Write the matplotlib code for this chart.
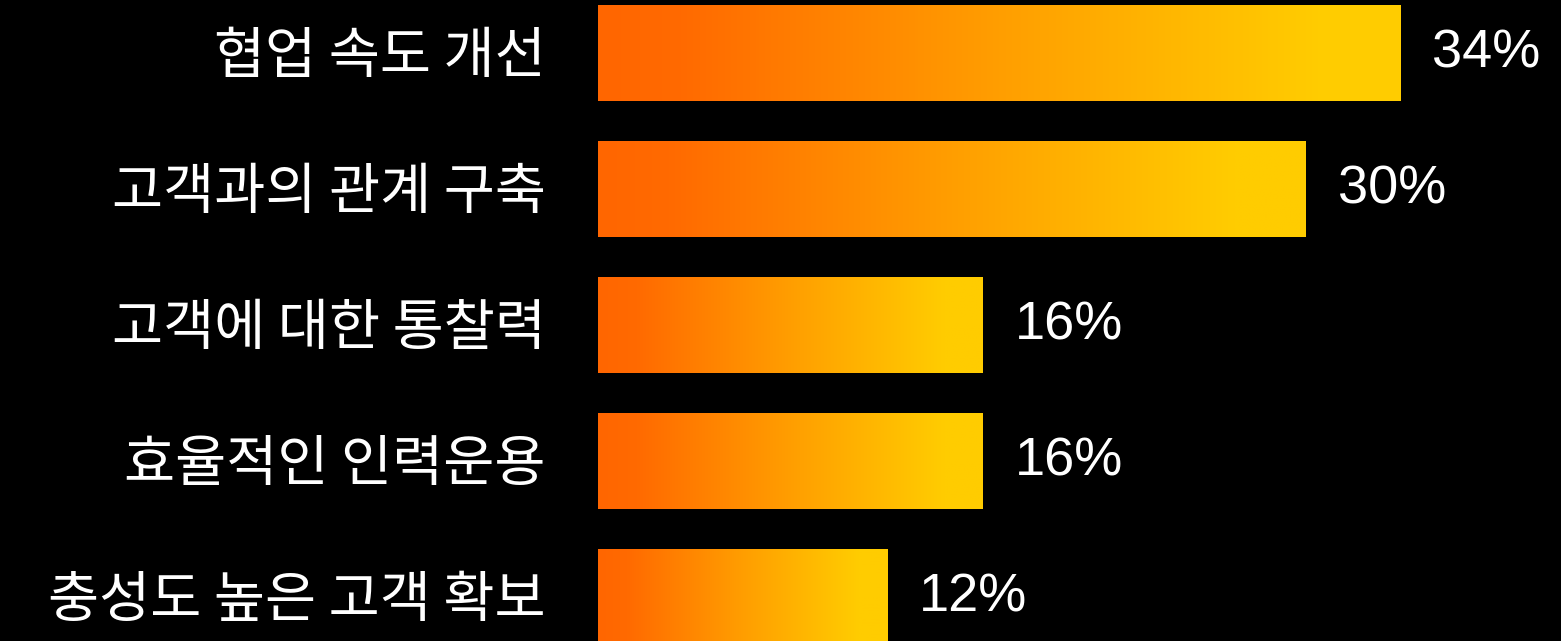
import numpy as np
import matplotlib.pyplot as plt
from matplotlib.colors import LinearSegmentedColormap

categories = ['협업 속도 개선', '고객과의 관계 구축', '고객에 대한 통찰력', '효율적인 인력운용', '충성도 높은 고객 확보']
values = [34, 30, 16.3, 16.3, 12.25]
value_labels = ['34%', '30%', '16%', '16%', '12%']

cmap = LinearSegmentedColormap.from_list(
    'orange_yellow', [(0, '#FF6600'), (0.1, '#FF6A00'), (0.5, '#FF9E00'), (0.9, '#FFCC00'), (1, '#FFCC00')])

fig = plt.figure(figsize=(15.61, 6.41), dpi=100, facecolor='black')
ax = fig.add_axes([598 / 1561, 0, 1 - 598 / 1561, 1])
ax.set_facecolor('black')

px = 23.6  # pixels per percent
grad = np.linspace(0, 1, 256).reshape(1, -1)
h = 0.35
for i, (cat, v, lab) in enumerate(zip(categories, values, value_labels)):
    ax.imshow(grad, cmap=cmap, aspect='auto', extent=(0, v, i + h, i - h),
              interpolation='bilinear', zorder=2)
    ax.annotate(cat, xy=(0, i), xytext=(-52 * 0.72, -3), textcoords='offset points',
                ha='right', va='center', color='white', fontsize=40,
                family=['Noto Sans CJK KR', 'DejaVu Sans'], annotation_clip=False)
    ax.annotate(lab, xy=(v, i), xytext=(32 * 0.72, 0), textcoords='offset points',
                ha='left', va='center', color='white', fontsize=39,
                family='Liberation Sans', annotation_clip=False)

ax.set_xlim(0, (1561 - 598) / px)
ax.set_ylim((641 - 53) / 136, -53 / 136)
ax.axis('off')

fig.savefig('out.png', dpi=100, facecolor='black')
